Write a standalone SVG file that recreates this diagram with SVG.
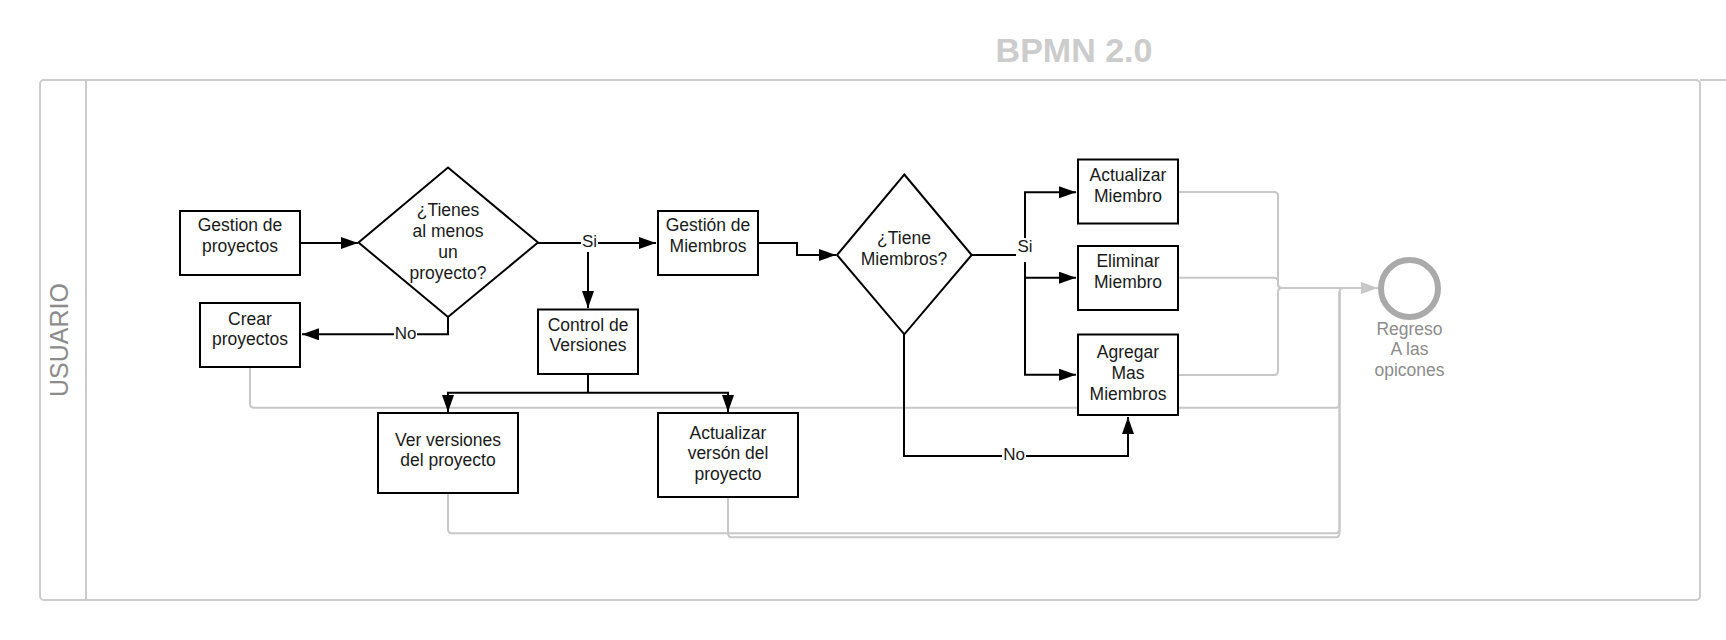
<svg xmlns="http://www.w3.org/2000/svg" width="1726" height="640" viewBox="0 0 1726 640">
<style>
.box{fill:#fff;stroke:#000;stroke-width:2}
.t{font-family:"Liberation Sans",Arial,sans-serif;font-size:17.5px;fill:#1a1a1a;text-anchor:middle}
.lb{font-family:"Liberation Sans",Arial,sans-serif;font-size:17px;fill:#1a1a1a;text-anchor:middle}
.c{fill:none;stroke:#000;stroke-width:2}
.g{fill:none;stroke:#c8c8c8;stroke-width:2}
.bg{fill:#fff}
.gt{fill:#8c8c8c}
</style>
<defs>
<marker id="ab" markerUnits="userSpaceOnUse" markerWidth="18" markerHeight="12" refX="17" refY="6" orient="auto"><path d="M0,0 L17,6 L0,12 z" fill="#000"/></marker>
<marker id="ag" markerUnits="userSpaceOnUse" markerWidth="18" markerHeight="12" refX="17" refY="6" orient="auto"><path d="M0,0 L17,6 L0,12 z" fill="#c8c8c8"/></marker>
</defs>
<rect width="1726" height="640" fill="#fff"/>
<text x="1074" y="62" font-family="'Liberation Sans',Arial,sans-serif" font-size="34" font-weight="bold" fill="#cccccc" text-anchor="middle">BPMN 2.0</text>
<g id="pool">
<rect x="40" y="80" width="1660" height="520" rx="4" fill="#fff" stroke="#cccccc" stroke-width="2"/>
<line x1="1700" y1="80" x2="1726" y2="80" stroke="#cccccc" stroke-width="2"/>
<line x1="86" y1="80" x2="86" y2="600" stroke="#cccccc" stroke-width="2"/>
<text transform="translate(68,340) rotate(-90)" font-family="'Liberation Sans',Arial,sans-serif" font-size="25" fill="#8c8c8c" text-anchor="middle">USUARIO</text>
</g>
<g id="connectors">
<path class="g" d="M250,367 V403.7 Q250,407.7 254,407.7 H1335.5 Q1339.5,407.7 1339.5,403.7 V292 Q1339.5,288 1343.5,288"/>
<path class="g" d="M448,493 V529.3 Q448,533.3 452,533.3 H1335.5 Q1339.5,533.3 1339.5,529.3 V292"/>
<path class="g" d="M728,497 V533.3 Q728,537.3 732,537.3 H1335.5 Q1339.5,537.3 1339.5,533.3 V292"/>
<path class="g" d="M1178,192 H1274 Q1278,192 1278,196 V284 Q1278,288 1282,288"/>
<path class="g" d="M1178,277.7 H1274 Q1278,277.7 1278,281.7 V284 Q1278,288 1282,288"/>
<path class="g" d="M1178,375 H1274 Q1278,375 1278,371 V292 Q1278,288 1282,288"/>
<path class="g" d="M1278,288 H1378" marker-end="url(#ag)"/>
<path class="c" d="M300,243 H358" marker-end="url(#ab)"/>
<path class="c" d="M538,243 H656" marker-end="url(#ab)"/>
<path class="c" d="M588,243 V308" marker-end="url(#ab)"/>
<path class="c" d="M448,317 V334.3 H302" marker-end="url(#ab)"/>
<path class="c" d="M588,374 V392.7"/>
<path class="c" d="M588,392.7 H448 V412" marker-end="url(#ab)"/>
<path class="c" d="M588,392.7 H728 V412" marker-end="url(#ab)"/>
<path class="c" d="M758,243 H797 V255 H836" marker-end="url(#ab)"/>
<path class="c" d="M972,255 H1025"/>
<path class="c" d="M1025,255 V192.3 H1076" marker-end="url(#ab)"/>
<path class="c" d="M1025,255 V277.7 H1076" marker-end="url(#ab)"/>
<path class="c" d="M1025,277 V374.7 H1076" marker-end="url(#ab)"/>
<path class="c" d="M904,334 V456 H1128 V417" marker-end="url(#ab)"/>
<rect class="bg" x="581" y="233" width="17" height="19"/>
<text class="lb" x="589.5" y="247">Si</text>
<rect class="bg" x="394" y="325" width="23" height="18"/>
<text class="lb" x="405.5" y="338.5">No</text>
<rect class="bg" x="1016" y="238" width="18" height="24"/>
<text class="lb" x="1025" y="252">Si</text>
<rect class="bg" x="1002" y="446" width="24" height="18"/>
<text class="lb" x="1014" y="459.5">No</text>
</g>
<g id="gestion-proyectos">
<rect class="box" x="180" y="211" width="120" height="64"/>
<text class="t" x="240" y="231">Gestion de</text>
<text class="t" x="240" y="252">proyectos</text>
</g>
<g id="decision-proyecto">
<path class="box" d="M448,167.5 L538,242.5 L448,317 L358.5,242.5 Z"/>
<text class="t" x="448" y="215.5">¿Tienes</text>
<text class="t" x="448" y="236.5">al menos</text>
<text class="t" x="448" y="257.5">un</text>
<text class="t" x="448" y="278.5">proyecto?</text>
</g>
<g id="crear-proyectos">
<rect class="box" x="200" y="303" width="100" height="64"/>
<text class="t" x="250" y="324.5">Crear</text>
<text class="t" x="250" y="345">proyectos</text>
</g>
<g id="control-versiones">
<rect class="box" x="538" y="309.5" width="100" height="64.5"/>
<text class="t" x="588" y="330.5">Control de</text>
<text class="t" x="588" y="351">Versiones</text>
</g>
<g id="ver-versiones">
<rect class="box" x="378" y="413" width="140" height="80"/>
<text class="t" x="448" y="445.5">Ver versiones</text>
<text class="t" x="448" y="466">del proyecto</text>
</g>
<g id="actualizar-version">
<rect class="box" x="658" y="413" width="140" height="84"/>
<text class="t" x="728" y="438.5">Actualizar</text>
<text class="t" x="728" y="459">versón del</text>
<text class="t" x="728" y="480">proyecto</text>
</g>
<g id="gestion-miembros">
<rect class="box" x="658" y="211" width="100" height="64"/>
<text class="t" x="708" y="231">Gestión de</text>
<text class="t" x="708" y="252">Miembros</text>
</g>
<g id="decision-miembros">
<path class="box" d="M904.3,174.5 L971.7,255 L904.3,334.3 L837,255 Z"/>
<text class="t" x="904" y="244">¿Tiene</text>
<text class="t" x="904" y="264.5">Miembros?</text>
</g>
<g id="actualizar-miembro">
<rect class="box" x="1078" y="159.5" width="100" height="64"/>
<text class="t" x="1128" y="181">Actualizar</text>
<text class="t" x="1128" y="202">Miembro</text>
</g>
<g id="eliminar-miembro">
<rect class="box" x="1078" y="246" width="100" height="64"/>
<text class="t" x="1128" y="267">Eliminar</text>
<text class="t" x="1128" y="288">Miembro</text>
</g>
<g id="agregar-miembros">
<rect class="box" x="1078" y="334.5" width="100" height="80.5"/>
<text class="t" x="1128" y="358">Agregar</text>
<text class="t" x="1128" y="379">Mas</text>
<text class="t" x="1128" y="400">Miembros</text>
</g>
<g id="regreso">
<circle cx="1409.5" cy="288.5" r="28.5" fill="#fff" stroke="#aaaaaa" stroke-width="6"/>
<text class="t gt" x="1409.5" y="334.5">Regreso</text>
<text class="t gt" x="1409.5" y="355">A las</text>
<text class="t gt" x="1409.5" y="376">opicones</text>
</g>
</svg>
